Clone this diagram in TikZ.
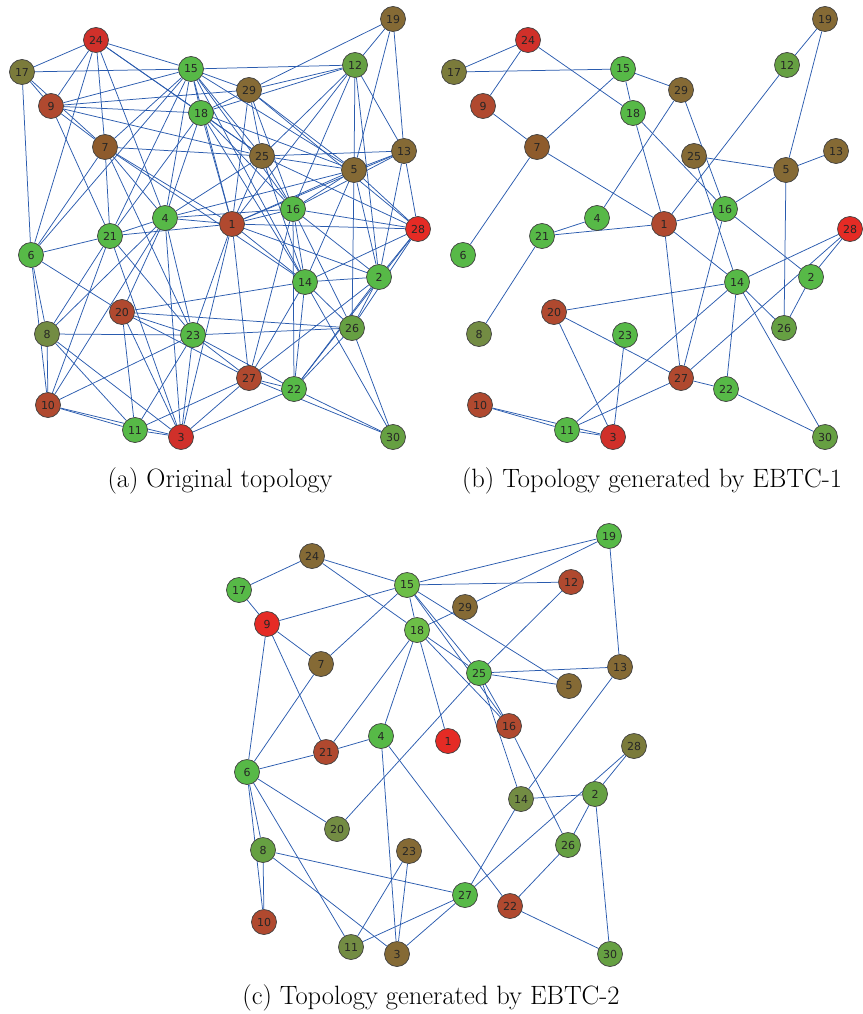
\documentclass[tikz,border=0pt]{standalone}
\usepackage{fontspec}
\newfontfamily\numfont{DejaVu Sans}
\usetikzlibrary{backgrounds}

\definecolor{cRed}{HTML}{D0302A}
\definecolor{cBRed}{HTML}{E52B25}
\definecolor{cRust}{HTML}{B0492F}
\definecolor{cOrange}{HTML}{8E5B2C}
\definecolor{cBrown}{HTML}{856A35}
\definecolor{cOlive}{HTML}{7B7B3B}
\definecolor{cOliveG}{HTML}{738C43}
\definecolor{cDGreen}{HTML}{66A042}
\definecolor{cGreen}{HTML}{57B947}
\definecolor{cLGreen}{HTML}{6CBE47}
\definecolor{edgeblue}{HTML}{2A5BAE}

\tikzset{
  vtx/.style={circle, draw=black!75, line width=0.7pt, minimum size=25pt, inner sep=0pt,
    font=\numfont\fontsize{11}{12}\selectfont, text=black!85},
  lnk/.style={draw=edgeblue, line width=0.75pt},
  capt/.style={font=\fontsize{26.5}{30}\selectfont}
}

\begin{document}
\begin{tikzpicture}[x=1pt,y=-1pt]
\useasboundingbox (0,0) rectangle (862,1014);

 % Nodes (a) and (b)

\foreach \n/\x/\y/\c in {24/96/40/cRed, 17/22/72/cOlive, 15/191/69/cGreen, 9/51/106/cRust,
  29/249/90/cBrown, 12/355/65/cDGreen, 19/393/19/cBrown, 18/201/113/cGreen, 7/105/147/cOrange,
  25/262/156/cBrown, 13/404/151/cBrown, 5/354/170/cBrown, 4/165/218/cGreen, 21/110/236/cGreen,
  1/232/224/cRust, 16/293/209/cGreen, 28/418/229/cBRed, 6/31/255/cGreen, 2/379/277/cGreen,
  14/305/282/cGreen, 20/122/312/cRust, 8/47/334/cOliveG, 23/193/335/cGreen, 26/352/328/cDGreen,
  27/249/378/cRust, 22/294/389/cGreen, 10/48/405/cRust, 11/135/430/cGreen, 3/181/437/cRed,
  30/393/437/cDGreen}
{
  \node[vtx, fill=\c] (a\n) at (\x,\y) {\n};
  \node[vtx, fill=\c] (b\n) at (\x+432,\y) {\n};
}

 % Nodes (c)

\foreach \n/\x/\y/\c in {24/312/556/cBrown, 17/239/590/cGreen, 15/407/585/cLGreen, 9/267/624/cBRed,
  7/321/664/cBrown, 18/417/630/cLGreen, 29/465/607/cBrown, 12/571/582/cRust, 19/609/536/cGreen,
  25/479/673/cGreen, 13/620/667/cBrown, 5/569/686/cBrown, 16/509/726/cRust, 1/448/741/cBRed,
  4/381/736/cGreen, 21/326/752/cRust, 6/247/772/cGreen, 28/634/746/cOlive, 14/521/799/cOliveG,
  2/595/794/cDGreen, 20/337/829/cOliveG, 26/568/845/cDGreen, 8/263/850/cDGreen, 23/409/851/cBrown,
  27/465/895/cGreen, 22/510/906/cRust, 10/264/922/cRust, 11/351/947/cOliveG, 3/397/954/cBrown,
  30/610/954/cDGreen}
  \node[vtx, fill=\c] (c\n) at (\x,\y) {\n};

% Connect nodes

\begin{scope}[on background layer]
\foreach \u/\v in {24/17, 24/9, 24/15, 24/18, 24/7, 24/6, 24/4, 24/25,
  17/15, 17/9, 17/7, 17/6, 9/15, 9/18, 9/7, 9/25, 9/29, 9/21,
  7/15, 7/1, 7/14, 7/25, 7/4, 7/21, 7/6, 7/23,
  15/18, 15/4, 15/21, 15/6, 15/1, 15/12, 15/29, 15/25, 15/16, 15/5, 15/14,
  18/21, 18/4, 18/1, 18/29, 18/12, 18/25, 18/16, 18/5, 18/14,
  29/12, 29/19, 29/25, 29/16, 29/1, 29/5, 29/28,
  12/19, 12/25, 12/1, 12/16, 12/5, 12/13, 12/2, 19/5, 19/13,
  25/13, 25/5, 25/16, 25/28, 25/1, 25/14, 25/4,
  13/5, 13/16, 13/28, 13/2, 13/1,
  5/16, 5/1, 5/28, 5/2, 5/14, 5/26, 5/4,
  4/21, 4/1, 4/16, 4/8, 4/10, 4/20, 4/23, 4/3,
  21/6, 21/1, 21/8, 21/10, 21/23, 21/3,
  1/16, 1/28, 1/14, 1/2, 1/27, 1/3, 1/23,
  16/28, 16/14, 16/26, 16/22, 16/27, 16/2,
  28/2, 28/26, 28/22, 28/14, 6/8, 6/10, 6/20,
  2/14, 2/26, 2/22, 2/27, 14/26, 14/30, 14/22, 14/27, 14/20,
  20/23, 20/27, 20/26, 20/11, 20/3, 8/23, 8/10, 8/11, 8/3,
  23/26, 23/27, 23/22, 23/3, 23/11, 23/10, 26/30, 26/22,
  27/22, 27/11, 27/3, 27/30, 22/30, 22/3, 10/11, 10/3, 11/3}
  \draw[lnk] (a\u) -- (a\v);

\foreach \u/\v in {24/17, 24/9, 24/18, 17/15, 15/7, 15/18, 15/29, 9/7, 7/1, 7/6,
  18/1, 18/16, 29/16, 29/4, 25/14, 25/5, 4/21, 21/1, 21/8, 20/3, 20/27, 20/14,
  23/3, 10/11, 10/3, 11/3, 11/14, 11/27, 1/16, 1/12, 1/14, 1/27, 16/27, 16/5,
  16/2, 5/13, 5/19, 5/26, 12/19, 14/28, 28/2, 28/27, 2/26, 14/26, 14/22, 14/30,
  27/22, 22/30}
  \draw[lnk] (b\u) -- (b\v);

\foreach \u/\v in {24/17, 24/15, 24/18, 17/9, 9/15, 9/7, 9/6, 9/21, 7/6, 15/7,
  15/18, 15/25, 15/16, 15/5, 15/12, 15/19, 18/29, 18/4, 18/21, 18/1, 18/25, 18/16,
  29/19, 12/25, 25/13, 25/5, 25/16, 25/14, 25/20, 16/26, 19/13, 13/14,
  4/21, 4/3, 4/22, 21/6, 6/8, 6/10, 6/20, 6/11, 8/10, 8/27, 8/3,
  23/11, 23/3, 11/27, 3/27, 14/2, 14/27, 2/28, 28/27, 2/26, 2/30, 26/22, 22/30}
  \draw[lnk] (c\u) -- (c\v);
\end{scope}

 % Captions

\node[capt] (capa) at (220,481) {(a) Original topology};
\node[capt] (capb) at (652,481) {(b) Topology generated by EBTC-1};
\node[capt] (capc) at (431,998) {(c) Topology generated by EBTC-2};

\end{tikzpicture}
\end{document}
